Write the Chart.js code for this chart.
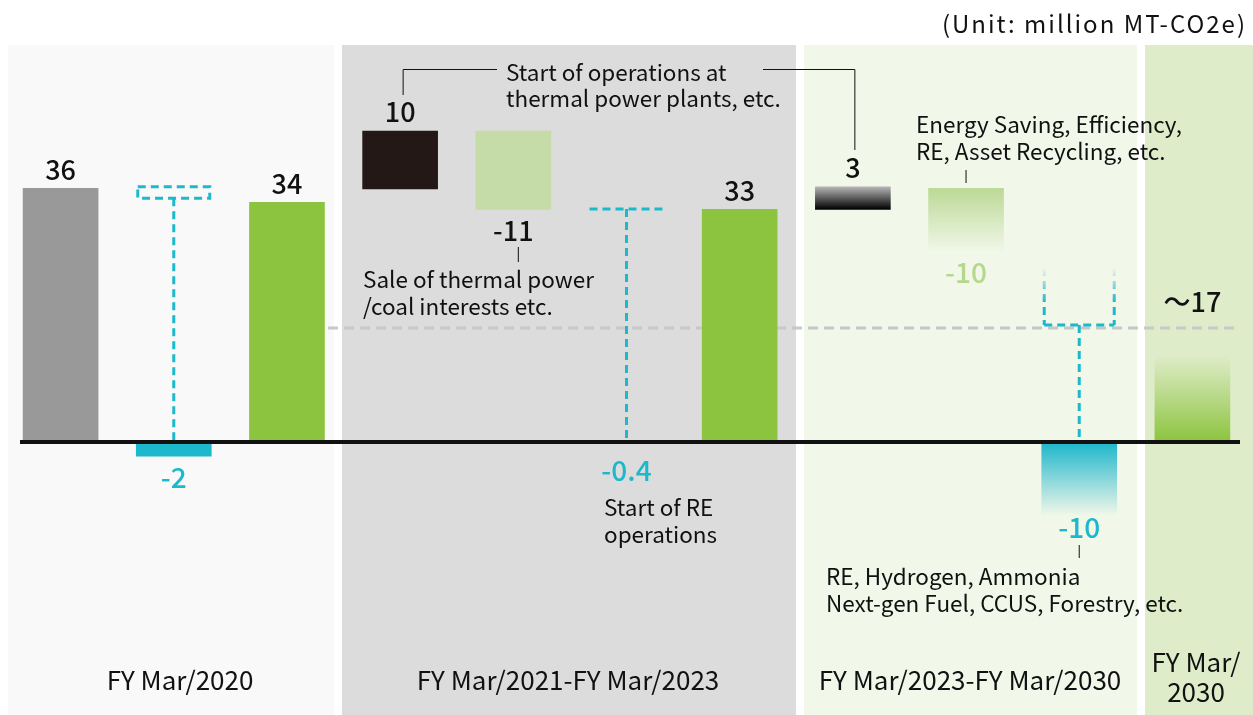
<!DOCTYPE html>
<html>
<head>
<meta charset="utf-8">
<script src="https://cdn.jsdelivr.net/npm/chart.js@4"></script>
<style>
  html, body { margin: 0; padding: 0; background: #fff; }
  #wrap { width: 1253px; height: 715px; position: relative; }
</style>
</head>
<body>
<div id="wrap"><canvas id="chart" width="1253" height="715"></canvas></div>
<script>
// waterfall steps (million MT-CO2e)
const categories = ['FY Mar/2020', 'Change 2020', 'FY Mar/2020 adj.', 'Thermal start', 'Thermal sale',
  'RE start', 'FY Mar/2023', 'Thermal 2030', 'Saving', 'RE etc.', 'FY Mar/2030'];
const stepText = ['36', '-2', '34', '10', '-11', '-0.4', '33', '3', '-10', '-10', '～17'];
const barLow  = [0, -2, 0, 35.9, 33, -0.4, 0, 33, 27, -10.4, 0];
const barHigh = [36, 0, 34, 44.1, 44.1, 0, 33, 36.2, 36, 0, 12.3];

// connector levels
const dashBox = [34.6, 36.2];      // dashed box over the -2 step
const reLevel = 33.05;             // -0.4 step
const bracket = [24.7, 16.6];      // top / bottom of the bracket over the last -10
const targetLine = 16.2;           // ~17 level

const periods = ['FY Mar/2020', 'FY Mar/2021-FY Mar/2023', 'FY Mar/2023-FY Mar/2030', 'FY Mar/\n2030'];

const CYAN = '#1cb8cc';
const FONT = '"Noto Sans CJK JP", "Noto Sans", sans-serif';

function yPx(chart, v) { return chart.scales.y.getPixelForValue(v); }
function xPx(chart, i) { return chart.scales.x.getPixelForValue(i); }

function barColor(ctx) {
  const chart = ctx.chart;
  const i = ctx.dataIndex;
  if (!chart.chartArea) return '#999';
  const top = yPx(chart, barHigh[i]);
  const bot = yPx(chart, barLow[i]);
  const g = chart.ctx.createLinearGradient(0, top, 0, bot);
  switch (i) {
    case 0: return '#999999';
    case 1: return CYAN;
    case 2: case 6: return '#8cc43f';
    case 3: return '#231815';
    case 4: return '#c5dca8';
    case 5: return 'rgba(0,0,0,0)';
    case 7: g.addColorStop(0, '#b5b5b5'); g.addColorStop(1, '#000'); return g;
    case 8: g.addColorStop(0, 'rgba(188,217,150,1)'); g.addColorStop(1, 'rgba(188,217,150,0)'); return g;
    case 9: g.addColorStop(0, 'rgba(28,182,203,1)'); g.addColorStop(1, 'rgba(28,182,203,0)'); return g;
    case 10: g.addColorStop(0, 'rgba(140,196,63,0)'); g.addColorStop(1, 'rgba(140,196,63,1)'); return g;
  }
  return '#999';
}

const backdrop = {
  id: 'backdrop',
  beforeDatasetsDraw(chart) {
    const c = chart.ctx;
    c.save();
    // period panels
    const panels = [[8, 334, '#f9f9f9'], [342, 796, '#dcdcdc'], [804, 1137, '#f1f7e9'], [1145, 1253, '#dfecc9']];
    panels.forEach(p => { c.fillStyle = p[2]; c.fillRect(p[0], 45, p[1] - p[0], 715 - 45); });

    const half = 37;
    // grey dashed target level
    c.strokeStyle = '#c8c8c8';
    c.lineWidth = 3;
    c.setLineDash([10, 6]);
    c.beginPath();
    c.moveTo(328, yPx(chart, targetLine));
    c.lineTo(1240, yPx(chart, targetLine));
    c.stroke();

    c.strokeStyle = CYAN;
    c.lineWidth = 3;
    c.setLineDash([8, 5]);
    // dashed box for the -2 step
    let x = xPx(chart, 1);
    c.strokeRect(x - half + 1, yPx(chart, dashBox[1]), 2 * half - 2, yPx(chart, dashBox[0]) - yPx(chart, dashBox[1]));
    c.beginPath();
    c.moveTo(x, yPx(chart, dashBox[0]));
    c.lineTo(x, yPx(chart, 0));
    c.stroke();
    // -0.4 step
    x = xPx(chart, 5);
    c.beginPath();
    c.moveTo(x - half, yPx(chart, reLevel));
    c.lineTo(x + half, yPx(chart, reLevel));
    c.moveTo(x, yPx(chart, reLevel));
    c.lineTo(x, yPx(chart, 0));
    c.stroke();
    // bracket above the last -10
    x = xPx(chart, 9);
    const bt = yPx(chart, bracket[0]), bb = yPx(chart, bracket[1]);
    const g = c.createLinearGradient(0, bt, 0, bb);
    g.addColorStop(0, 'rgba(28,184,204,0)');
    g.addColorStop(0.6, 'rgba(28,184,204,1)');
    c.strokeStyle = g;
    c.beginPath();
    c.moveTo(x - half + 2, bt); c.lineTo(x - half + 2, bb);
    c.moveTo(x + half - 2, bt); c.lineTo(x + half - 2, bb);
    c.stroke();
    c.strokeStyle = CYAN;
    c.beginPath();
    c.moveTo(x - half + 2, bb); c.lineTo(x + half - 2, bb);
    c.moveTo(x, bb); c.lineTo(x, yPx(chart, 0));
    c.stroke();
    c.restore();
  },
  afterDatasetsDraw(chart) {
    const c = chart.ctx;
    c.save();
    // zero line
    c.strokeStyle = '#111';
    c.lineWidth = 4;
    c.beginPath();
    c.moveTo(20, yPx(chart, 0));
    c.lineTo(1240, yPx(chart, 0));
    c.stroke();

    // step labels
    const colors = ['#111', CYAN, '#111', '#111', '#111', CYAN, '#111', '#111', '#b6d88c', CYAN, '#111'];
    c.textAlign = 'center';
    c.textBaseline = 'middle';
    stepText.forEach((t, i) => {
      const x = xPx(chart, i);
      let y;
      if (i === 10) y = yPx(chart, targetLine) - 26;
      else if (i === 5) y = yPx(chart, 0) + 28;
      else if (barLow[i] >= 0 && (i !== 4 && i !== 8)) y = yPx(chart, barHigh[i]) - 19;
      else y = yPx(chart, barLow[i]) + (i === 9 ? 12 : 21);
      c.fillStyle = colors[i];
      c.font = (colors[i] === '#111' ? '500 27px ' : '500 28px ') + FONT;
      c.fillText(t, x, y);
    });

    // leader lines
    c.strokeStyle = '#111';
    c.lineWidth = 1;
    c.beginPath();
    const x3 = xPx(chart, 3) + 3, x7 = xPx(chart, 7) + 2;
    c.moveTo(x3, 95); c.lineTo(x3, 69.5); c.lineTo(497, 69.5);
    c.moveTo(763, 69.5); c.lineTo(x7, 69.5); c.lineTo(x7, 150);
    const x4 = xPx(chart, 4) + 5;
    c.moveTo(x4, 247); c.lineTo(x4, 262);
    const x8 = xPx(chart, 8);
    c.moveTo(x8, 170); c.lineTo(x8, 183);
    const x9 = xPx(chart, 9);
    c.moveTo(x9, 545); c.lineTo(x9, 558);
    c.stroke();

    // annotations
    c.fillStyle = '#111';
    c.font = '22.5px ' + FONT;
    c.textAlign = 'left';
    const notes = [
      ['Start of operations at', 506, 72], ['thermal power plants, etc.', 506, 98],
      ['Sale of thermal power', 363, 279], ['/coal interests etc.', 363, 306],
      ['Start of RE', 604, 507], ['operations', 604, 534],
      ['Energy Saving, Efficiency,', 916, 124], ['RE, Asset Recycling, etc.', 916, 151],
      ['RE, Hydrogen, Ammonia', 826, 576], ['Next-gen Fuel, CCUS, Forestry, etc.', 826, 603]
    ];
    notes.forEach(n => c.fillText(n[0], n[1], n[2]));

    c.textAlign = 'right';
    c.font = '24px ' + FONT;
    c.letterSpacing = '2px';
    c.fillText('(Unit: million MT-CO2e)', 1247, 24);
    c.letterSpacing = '0px';

    // period labels
    c.font = '400 26px ' + FONT;
    c.textAlign = 'center';
    const centers = [180, 568, 970, 1196];
    periods.forEach((p, k) => {
      const lines = p.split('\n');
      lines.forEach((ln, j) => {
        const y = lines.length > 1 ? 662 + j * 30 : 680;
        c.fillText(ln, centers[k], y);
      });
    });
    c.restore();
  }
};

const floating = categories.map((_, i) => [barLow[i], barHigh[i]]);

new Chart(document.getElementById('chart'), {
  type: 'bar',
  data: {
    labels: categories,
    datasets: [{
      data: floating,
      backgroundColor: barColor,
      borderWidth: 0,
      borderSkipped: false,
      barThickness: 75
    }]
  },
  options: {
    responsive: false,
    animation: false,
    layout: { padding: { left: 4, right: 4, top: 0, bottom: 0 } },
    plugins: { legend: { display: false }, tooltip: { enabled: false } },
    scales: {
      x: { display: false, grid: { display: false } },
      y: { display: false, min: -38.7, max: 62.7, grid: { display: false } }
    }
  },
  plugins: [backdrop]
});
</script>
</body>
</html>
